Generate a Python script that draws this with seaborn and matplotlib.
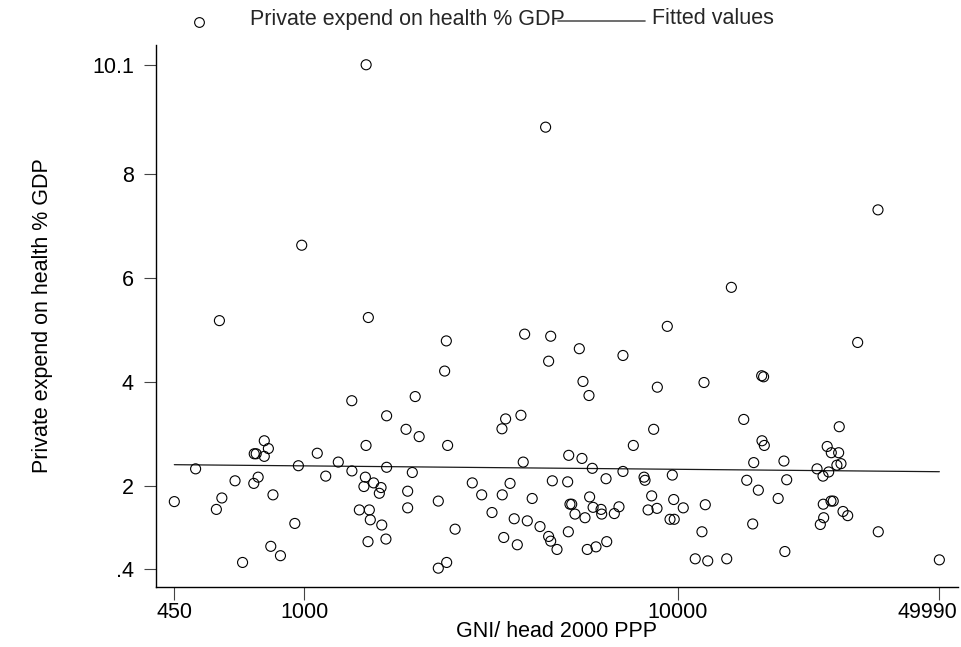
import matplotlib
matplotlib.use("Agg")
import matplotlib.pyplot as plt
from matplotlib.lines import Line2D
from matplotlib.transforms import ScaledTranslation
import seaborn as sns
import pandas as pd

# GNI per head (2000 PPP) for each country
gni = [
    1466, 986, 4426, 34260, 13890,
    594, 1486, 1342, 1663, 1983, 1874, 2032, 1465, 783, 803,
    736, 745, 783, 1085, 1235, 966, 513, 1343, 1663, 1948,
    1143, 754, 654, 734, 1459, 1446, 1535, 1607, 1590, 1893,
    1893, 826, 450, 603, 583, 1406, 1495, 1504, 1614, 945,
    1483, 1656, 815, 865, 685,
    2402, 2377, 3890, 4567, 4509, 5447, 7126, 9363, 5571, 5781,
    8806, 3802, 3460, 3383, 2421, 8609, 7596, 3856, 5103, 5536,
    5901, 7126, 6421, 8114, 8163, 9656, 2818, 3556, 4613, 5070,
    2986, 3389, 4075, 2286, 5804, 5142, 5198, 5929, 6227, 6252,
    5304, 5641, 6757, 6954, 8504, 8318, 8788, 9739, 9521, 9771,
    3182, 3648, 3954, 4276, 5091, 2535, 3420, 3718, 4509, 4567,
    4748, 5721, 6036, 6448, 2286, 2407,
    30230, 11737, 16740, 16940, 14990, 26990, 16774, 17015, 25060, 25700,
    26890, 26600, 27280, 15940, 19200, 23540, 25290, 24420, 15270, 19530,
    16400, 18530, 10330, 11830, 24460, 25650, 26010, 27620, 28430, 24520,
    24020, 15840, 11590, 34320, 19310, 11120, 12010, 13500, 49990,
]

# Private expenditure on health, % of GDP
pexp = [
    10.1, 6.63, 8.90, 7.31, 5.82,
    5.18, 5.24, 3.64, 3.35, 3.72, 3.09, 2.95, 2.78, 2.87, 2.72,
    2.62, 2.62, 2.57, 2.63, 2.46, 2.39, 2.33, 2.29, 2.36, 2.26,
    2.19, 2.17, 2.10, 2.05, 2.17, 1.99, 2.06, 1.97, 1.86, 1.90,
    1.58, 1.83, 1.70, 1.77, 1.55, 1.54, 1.54, 1.35, 1.25, 1.28,
    0.93, 0.98, 0.84, 0.66, 0.53,
    4.79, 4.21, 4.92, 4.88, 4.40, 4.64, 4.51, 5.07, 4.01, 3.74,
    3.90, 3.36, 3.29, 3.10, 2.78, 3.09, 2.78, 2.46, 2.59, 2.53,
    2.34, 2.28, 2.14, 2.17, 2.11, 2.21, 2.06, 2.05, 2.10, 2.08,
    1.83, 1.83, 1.76, 1.71, 1.79, 1.65, 1.65, 1.59, 1.55, 1.46,
    1.46, 1.39, 1.47, 1.60, 1.81, 1.54, 1.57, 1.74, 1.36, 1.36,
    1.49, 1.37, 1.33, 1.22, 1.12, 1.17, 1.01, 0.87, 1.03, 0.94,
    0.78, 0.78, 0.83, 0.93, 0.42, 0.53,
    4.76, 3.99, 4.12, 4.10, 3.28, 3.14, 2.87, 2.78, 2.76, 2.64,
    2.64, 2.40, 2.43, 2.45, 2.48, 2.33, 2.27, 2.19, 2.11, 2.12,
    1.92, 1.76, 1.58, 1.64, 1.65, 1.71, 1.71, 1.51, 1.43, 1.39,
    1.26, 1.27, 1.12, 1.12, 0.74, 0.60, 0.56, 0.60, 0.58,
]

# Fitted values at the ends of the GNI range
fit_gni = [450, 49990]
fit_pexp = [2.41, 2.275]

x_ticks = [450, 1000, 10000, 49990]
x_ticklabels = ["450", "1000", "10000", "49990"]
y_ticks = [0.4, 2, 4, 6, 8, 10.1]
y_ticklabels = [".4", "2", "4", "6", "8", "10.1"]

x_title = "GNI/ head 2000 PPP"
y_title = "Private expend on health % GDP"
fit_title = "Fitted values"

FS = 15.5

sns.set_theme(style="white")
plt.rcParams["font.family"] = ["Liberation Sans", "DejaVu Sans"]

df = pd.DataFrame({"gni": gni, "pexp": pexp})
fit = pd.DataFrame({"gni": fit_gni, "pexp": fit_pexp})

fig = plt.figure(figsize=(9.62, 6.47), dpi=100)
W, H = 962, 647
ax = fig.add_axes([156 / W, 1 - 587 / H, (958 - 156) / W, (587 - 45) / H])

ax.set_xscale("log")
sns.lineplot(data=fit, x="gni", y="pexp", ax=ax, color="#1a1a1a",
             linewidth=0.9, legend=False)
sns.scatterplot(data=df, x="gni", y="pexp", ax=ax, s=52, marker="o",
                facecolor="none", edgecolor="black", linewidth=0.8,
                legend=False, zorder=3)

ax.set_xlim(402, 56070)
ax.set_ylim(0.058, 10.48)

ax.set_xticks(x_ticks)
ax.set_xticklabels(x_ticklabels)
ax.minorticks_off()
ax.set_yticks(y_ticks)
ax.set_yticklabels(y_ticklabels)
ax.tick_params(axis="both", which="major", direction="out", length=9,
               width=0.8, color="#444444", labelsize=FS, labelcolor="black",
               bottom=True, left=True)
ax.tick_params(axis="x", pad=1.5)
ax.tick_params(axis="y", pad=7)

# keep the last GNI label inside the figure
last = ax.get_xticklabels()[-1]
last.set_transform(last.get_transform()
                   + ScaledTranslation(-0.115, 0, fig.dpi_scale_trans))

for side in ["top", "right"]:
    ax.spines[side].set_visible(False)
for side in ["left", "bottom"]:
    ax.spines[side].set_color("black")
    ax.spines[side].set_linewidth(1.0)

ax.set_xlabel(x_title, fontsize=FS, color="black")
ax.set_ylabel(y_title, fontsize=FS, color="black")
ax.xaxis.set_label_coords(0.5, -0.062)
ax.yaxis.set_label_coords(-0.128, 0.5)

# Legend across the top
fig.add_artist(Line2D([199 / W], [1 - 22 / H], marker="o", markersize=7,
                      markerfacecolor="none", markeredgecolor="black",
                      markeredgewidth=0.8, linestyle="none",
                      transform=fig.transFigure))
fig.text(250 / W, 1 - 19 / H, y_title, fontsize=FS, ha="left", va="center")
fig.add_artist(Line2D([558 / W, 645 / W], [1 - 21 / H, 1 - 21 / H],
                      color="#555555", linewidth=1.2,
                      transform=fig.transFigure))
fig.text(652 / W, 1 - 19 / H, fit_title, fontsize=FS, ha="left", va="center")

fig.savefig("out.png", dpi=100, facecolor="white")
